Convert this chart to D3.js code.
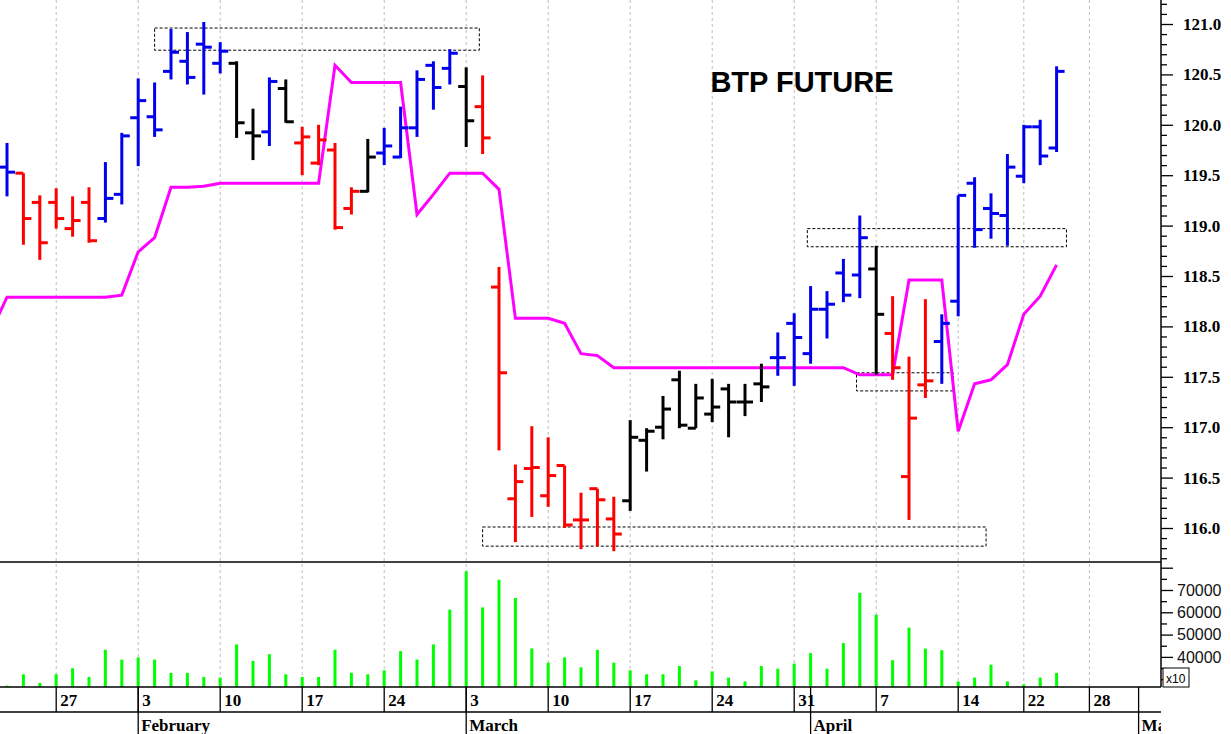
<!DOCTYPE html>
<html>
<head>
<meta charset="utf-8">
<script src="https://cdn.jsdelivr.net/npm/d3@7"></script>
<style>
  body { margin: 0; background: #fff; }
  svg { display: block; }
</style>
</head>
<body>
<svg id="chart" width="1231" height="734"></svg>
<script>
// daily bars, index 0 = Jan 22
const opens  = [119.58,119.52,119.23,119.23,118.97,119.23,119.07,119.31,120.07,120.08,120.53,120.63,120.80,120.61,120.61,119.92,119.93,120.36,119.82,119.62,119.75,119.17,119.34,119.72,119.68,119.97,120.59,120.56,120.38,120.18,118.39,116.29,116.59,116.32,116.62,116.08,116.39,116.09,116.27,116.87,117.00,117.47,116.99,117.13,117.38,117.25,117.43,117.69,118.03,117.73,118.17,118.53,118.51,118.57,117.93,116.51,117.42,117.85,118.25,119.42,119.17,119.10,119.49,119.98,119.77];
const highs  = [119.82,119.52,119.30,119.37,119.29,119.38,119.63,119.92,120.46,120.42,120.95,120.92,121.02,120.82,120.63,120.16,120.47,120.45,119.98,120.00,119.82,119.38,119.86,119.97,120.18,120.54,120.63,120.75,120.57,120.49,118.59,116.63,117.01,116.90,116.62,116.35,116.39,116.31,117.07,116.99,117.31,117.56,117.43,117.48,117.43,117.43,117.63,117.94,118.13,118.40,118.35,118.67,119.10,118.80,118.30,117.70,118.27,118.12,119.30,119.48,119.32,119.71,120.00,120.05,120.58];
const lows   = [119.29,118.81,118.66,118.97,118.89,118.83,119.03,119.21,119.59,119.88,120.45,120.40,120.30,120.51,119.87,119.65,119.79,120.02,119.50,119.60,118.96,119.11,119.33,119.60,119.67,119.88,120.15,120.40,119.78,119.71,116.77,115.86,116.11,116.21,116.00,115.79,115.82,115.77,116.17,116.56,116.88,116.99,116.99,117.05,116.90,117.11,117.25,117.51,117.41,117.63,117.88,118.24,118.28,117.52,117.47,116.08,117.29,117.43,118.10,118.78,118.87,118.80,119.42,119.60,119.73];
const closes = [119.53,119.07,118.83,119.07,119.05,118.85,119.27,119.89,120.24,119.95,120.72,120.47,120.77,120.73,120.02,119.89,120.43,120.03,119.88,119.85,118.98,119.34,119.68,119.79,119.97,120.45,120.37,120.71,120.04,119.87,117.54,116.46,116.60,116.52,116.03,116.08,116.28,115.94,116.90,116.96,117.18,117.02,117.29,117.20,117.25,117.25,117.40,117.69,117.89,118.17,118.22,118.31,118.88,118.12,117.59,117.09,117.46,118.03,119.30,118.96,119.12,119.58,119.98,119.69,120.53];
// b = up (blue), r = down (red), k = neutral (black)
const barColors = "brrrrrbbbbbbbbkkbkrrrrkbbbbbkrrrrrrrrrkkkkkkkkkbbbbbbkrrrbbbbbbbb";
// stop line, index -1 .. 64
const stopLine = [117.94,118.29,118.29,118.29,118.29,118.29,118.29,118.29,118.31,118.74,118.88,119.38,119.38,119.39,119.42,119.42,119.42,119.42,119.42,119.42,119.42,120.59,120.42,120.42,120.42,120.42,119.11,119.31,119.52,119.52,119.52,119.36,118.08,118.08,118.08,118.03,117.73,117.71,117.59,117.59,117.59,117.59,117.59,117.59,117.59,117.59,117.59,117.59,117.59,117.59,117.59,117.59,117.59,117.52,117.52,117.52,118.46,118.46,118.46,116.96,117.43,117.47,117.62,118.12,118.30,118.61];
const volumes = [27100,32200,28300,32200,34900,31000,43200,38800,39800,38800,32800,32800,31000,30700,45600,38200,41200,32200,31000,31000,43200,32900,32200,34000,42600,38800,45600,61200,78400,62200,74600,66400,43800,37400,39800,35300,43200,37400,34000,32200,32200,35900,29500,33500,30700,29000,35900,34700,37000,41700,34700,46200,68700,58900,38500,53100,43700,43000,29000,30700,36500,29000,27700,30700,32800];
// week ticks: [bar index, label]
const dayTicks = [[3,"27"],[8,"3"],[13,"10"],[18,"17"],[23,"24"],[28,"3"],[33,"10"],[38,"17"],[43,"24"],[48,"31"],[53,"7"],[58,"14"],[62,"22"],[66,"28"]];
const monthTicks = [[8,"February"],[28,"March"],[49,"April"],[69,"May"]];
// dashed boxes: [index from, index to, price low, price high]
const boxes = [[9.0,28.8,120.74,120.96],[29.0,59.7,115.82,116.01],[48.8,64.6,118.79,118.97],[51.8,57.7,117.36,117.54]];

const svg = d3.select("#chart");
const axisX = 1161, priceBottom = 562, volBottom = 687, labelLine = 712;

const x = d3.scaleLinear().domain([0, 1]).range([7, 23.4]);
const y = d3.scaleLinear().domain([116, 121]).range([528, 24]);
const yv = d3.scaleLinear().domain([26500, 80000]).range([volBottom, 567.7]);
const colorOf = { b: "#0000ee", r: "#ff0000", k: "#000000" };

svg.append("defs").append("clipPath").attr("id", "pclip")
  .append("rect").attr("x", 0).attr("y", 0).attr("width", axisX).attr("height", priceBottom);

// grid
svg.append("g").selectAll("line").data(dayTicks).join("line")
  .attr("x1", d => x(d[0])).attr("x2", d => x(d[0]))
  .attr("y1", 0).attr("y2", volBottom)
  .attr("stroke", "#bdbdbd").attr("stroke-dasharray", "3,3");

// boxes
svg.append("g").selectAll("rect").data(boxes).join("rect")
  .attr("x", d => x(d[0])).attr("width", d => x(d[1]) - x(d[0]))
  .attr("y", d => y(d[3])).attr("height", d => y(d[2]) - y(d[3]))
  .attr("fill", "none").attr("stroke", "#000").attr("stroke-dasharray", "3,2");

// stop line
const line = d3.line().x((d, i) => x(i - 1)).y(d => y(d));
svg.append("path").datum(stopLine).attr("d", line)
  .attr("clip-path", "url(#pclip)")
  .attr("fill", "none").attr("stroke", "#ff00ff").attr("stroke-width", 3);

// OHLC bars
const bars = svg.append("g").attr("clip-path", "url(#pclip)");
opens.forEach((o, i) => {
  const c = colorOf[barColors[i]];
  const g = bars.append("g").attr("stroke", c).attr("stroke-width", 3);
  g.append("line").attr("x1", x(i)).attr("x2", x(i)).attr("y1", y(highs[i])).attr("y2", y(lows[i]));
  g.append("line").attr("x1", x(i) - 8).attr("x2", x(i)).attr("y1", y(o)).attr("y2", y(o));
  g.append("line").attr("x1", x(i)).attr("x2", x(i) + 8).attr("y1", y(closes[i])).attr("y2", y(closes[i]));
});

// volume
svg.append("g").selectAll("rect").data(volumes).join("rect")
  .attr("x", (d, i) => x(i) - 1.5).attr("width", 3)
  .attr("y", d => yv(d)).attr("height", d => volBottom - yv(d))
  .attr("fill", "#00ff00");

// title
svg.append("text").attr("x", 802).attr("y", 92).attr("text-anchor", "middle")
  .attr("font-family", "Liberation Sans, Arial, sans-serif").attr("font-weight", "bold")
  .attr("font-size", 29).text("BTP FUTURE");

// frame lines
const frame = svg.append("g").attr("stroke", "#000").attr("stroke-width", 1.5);
frame.append("line").attr("x1", 0).attr("x2", axisX).attr("y1", priceBottom).attr("y2", priceBottom);
frame.append("line").attr("x1", 0).attr("x2", axisX).attr("y1", volBottom).attr("y2", volBottom);
frame.append("line").attr("x1", 0).attr("x2", axisX).attr("y1", labelLine).attr("y2", labelLine);
frame.append("line").attr("x1", axisX).attr("x2", axisX).attr("y1", 0).attr("y2", volBottom);

// price axis
const pAxis = d3.axisRight(y).tickValues(d3.range(115.7, 121.25, 0.1).map(v => +v.toFixed(1)))
  .tickSize(6).tickFormat(d => (Math.round(d * 10) % 5 === 0) ? d.toFixed(1) : "");
const pa = svg.append("g").attr("transform", `translate(${axisX},0)`).call(pAxis);
pa.select(".domain").remove();
pa.selectAll(".tick line").attr("x2", d => Math.round(d * 10) % 5 === 0 ? 12 : 6).attr("stroke-width", 1.3);
pa.selectAll(".tick text").attr("x", 22)
  .attr("font-family", "Liberation Serif, Times New Roman, serif").attr("font-weight", "bold").attr("font-size", 17);
pa.selectAll(".tick").filter(d => y(d) > priceBottom - 2).remove();

// volume axis
const vAxis = d3.axisRight(yv).tickValues(d3.range(30000, 80001, 5000))
  .tickSize(6).tickFormat(d => (d % 10000 === 0 && d >= 40000 && d <= 70000) ? d : "");
const va = svg.append("g").attr("transform", `translate(${axisX},0)`).call(vAxis);
va.select(".domain").remove();
va.selectAll(".tick line").attr("x2", d => d % 10000 === 0 ? 12 : 6).attr("stroke-width", 1.3);
va.selectAll(".tick text").attr("x", 16)
  .attr("font-family", "Liberation Sans, Arial, sans-serif").attr("font-size", 16).attr("fill", "#111");
svg.append("rect").attr("x", 1163).attr("y", 668).attr("width", 26).attr("height", 19)
  .attr("fill", "#fff").attr("stroke", "#000");
svg.append("text").attr("x", 1166).attr("y", 683).attr("font-family", "Liberation Sans, Arial, sans-serif")
  .attr("font-size", 12).text("x10");

// date axis
const da = svg.append("g");
da.selectAll("line").data(dayTicks).join("line")
  .attr("x1", d => x(d[0])).attr("x2", d => x(d[0])).attr("y1", volBottom).attr("y2", labelLine)
  .attr("stroke", "#000").attr("stroke-width", 1.3);
da.selectAll("text").data(dayTicks).join("text")
  .attr("x", d => x(d[0]) + 4).attr("y", 706)
  .attr("font-family", "Liberation Serif, Times New Roman, serif").attr("font-weight", "bold").attr("font-size", 17)
  .text(d => d[1]);
const ma = svg.append("g");
ma.selectAll("line").data(monthTicks).join("line")
  .attr("x1", d => x(d[0])).attr("x2", d => x(d[0])).attr("y1", volBottom).attr("y2", 734)
  .attr("stroke", "#000").attr("stroke-width", 1.3);
svg.append("clipPath").attr("id", "mclip").append("rect").attr("x", 0).attr("y", 712).attr("width", axisX).attr("height", 30);
ma.selectAll("text").data(monthTicks).join("text")
  .attr("clip-path", "url(#mclip)")
  .attr("x", d => x(d[0]) + 3).attr("y", 731)
  .attr("font-family", "Liberation Serif, Times New Roman, serif").attr("font-weight", "bold").attr("font-size", 17)
  .text(d => d[1]);
</script>
</body>
</html>
